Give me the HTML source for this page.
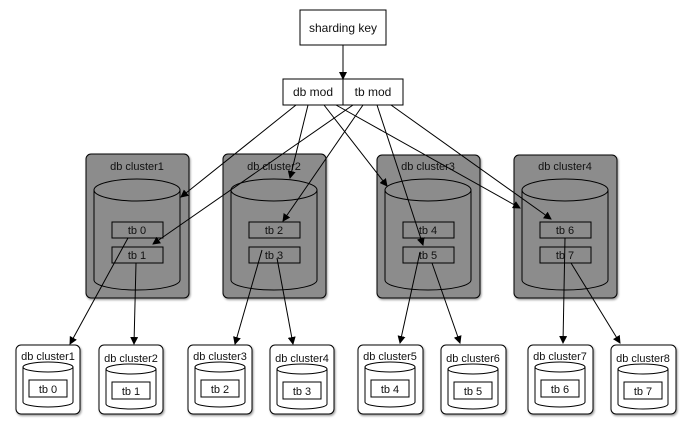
<!DOCTYPE html>
<html><head><style>body{margin:0;background:#fff}svg{display:block}text{font-family:"Liberation Sans",sans-serif;fill:#111}</style></head><body>
<svg width="692" height="431" viewBox="0 0 692 431">
<defs>
<marker id="a" markerWidth="8" markerHeight="8" refX="7" refY="4" orient="auto" markerUnits="userSpaceOnUse"><path d="M0,0 L8,4 L0,8 z" fill="#000"/></marker>
<filter id="s"><feDropShadow dx="1" dy="1.5" stdDeviation="1" flood-opacity="0.4"/></filter>
</defs>
<g stroke="#000" stroke-width="1">
<rect x="300" y="10" width="86" height="35" fill="#fff"/>
<rect x="283" y="79" width="60" height="26" fill="#fff"/>
<rect x="343" y="79" width="60" height="26" fill="#fff"/>
</g>
<text x="343" y="32" font-size="12" text-anchor="middle">sharding key</text>
<text x="313" y="96" font-size="12" text-anchor="middle">db mod</text>
<text x="373" y="96" font-size="12" text-anchor="middle">tb mod</text>

<g stroke="#000" stroke-width="1">
<rect x="86" y="154" width="103" height="144" rx="5" fill="#8c8c8c" filter="url(#s)"/>
<rect x="223" y="154" width="103" height="144" rx="5" fill="#8c8c8c" filter="url(#s)"/>
<rect x="377" y="155" width="103" height="143" rx="5" fill="#8c8c8c" filter="url(#s)"/>
<rect x="514" y="155" width="103" height="143" rx="5" fill="#8c8c8c" filter="url(#s)"/>
</g>
<g font-size="11" text-anchor="middle">
<text x="137" y="170">db cluster1</text><text x="274" y="170">db cluster2</text>
<text x="428" y="170">db cluster3</text><text x="565" y="170">db cluster4</text>
</g>
<g stroke="#000" fill="#8c8c8c">
<path d="M94,190 V280 A43,10 0 0 0 180,280 V190"/><ellipse cx="137" cy="190" rx="43" ry="11"/>
<path d="M231,190 V280 A43,10 0 0 0 317,280 V190"/><ellipse cx="274" cy="190" rx="43" ry="11"/>
<path d="M385,190 V280 A43,10 0 0 0 471,280 V190"/><ellipse cx="428" cy="190" rx="43" ry="11"/>
<path d="M522,190 V280 A43,10 0 0 0 608,280 V190"/><ellipse cx="565" cy="190" rx="43" ry="11"/>
<rect x="112" y="222" width="51" height="16"/><rect x="112" y="247" width="51" height="16"/>
<rect x="249" y="222" width="51" height="16"/><rect x="249" y="247" width="51" height="16"/>
<rect x="403" y="222" width="51" height="16"/><rect x="403" y="247" width="51" height="16"/>
<rect x="540" y="222" width="51" height="16"/><rect x="540" y="247" width="51" height="16"/>
</g>
<g font-size="11" text-anchor="middle">
<text x="137" y="234">tb 0</text><text x="137" y="259">tb 1</text>
<text x="274" y="234">tb 2</text><text x="274" y="259">tb 3</text>
<text x="428" y="234">tb 4</text><text x="428" y="259">tb 5</text>
<text x="565" y="234">tb 6</text><text x="565" y="259">tb 7</text>
</g>

<g stroke="#000" fill="#fff">
<rect x="16" y="345" width="64" height="69" rx="5" filter="url(#s)"/>
<rect x="99" y="345" width="64" height="69" rx="5" filter="url(#s)"/>
<rect x="188" y="345" width="64" height="69" rx="5" filter="url(#s)"/>
<rect x="270" y="345" width="64" height="69" rx="5" filter="url(#s)"/>
<rect x="358" y="345" width="65" height="69" rx="5" filter="url(#s)"/>
<rect x="441" y="345" width="65" height="69" rx="5" filter="url(#s)"/>
<rect x="528" y="345" width="65" height="69" rx="5" filter="url(#s)"/>
<rect x="611" y="345" width="65" height="69" rx="5" filter="url(#s)"/>
</g>
<g stroke="#000" fill="#fff">
<path d="M23,367 V402 A25,5 0 0 0 73,402 V367"/><ellipse cx="48" cy="367" rx="25" ry="5"/><rect x="29" y="380" width="38" height="17"/>
<path d="M106,369 V404 A25,5 0 0 0 156,404 V369"/><ellipse cx="131" cy="369" rx="25" ry="5"/><rect x="112" y="382" width="38" height="17"/>
<path d="M195,367 V402 A25,5 0 0 0 245,402 V367"/><ellipse cx="220" cy="367" rx="25" ry="5"/><rect x="201" y="380" width="38" height="17"/>
<path d="M277,369 V404 A25,5 0 0 0 327,404 V369"/><ellipse cx="302" cy="369" rx="25" ry="5"/><rect x="283" y="382" width="38" height="17"/>
<path d="M365,367 V402 A25,5 0 0 0 415,402 V367"/><ellipse cx="390" cy="367" rx="25" ry="5"/><rect x="371" y="380" width="38" height="17"/>
<path d="M448,369 V404 A25,5 0 0 0 498,404 V369"/><ellipse cx="473" cy="369" rx="25" ry="5"/><rect x="454" y="382" width="38" height="17"/>
<path d="M535,367 V402 A25,5 0 0 0 585,402 V367"/><ellipse cx="560" cy="367" rx="25" ry="5"/><rect x="541" y="380" width="38" height="17"/>
<path d="M618,369 V404 A25,5 0 0 0 668,404 V369"/><ellipse cx="643" cy="369" rx="25" ry="5"/><rect x="624" y="382" width="38" height="17"/>
</g>
<g font-size="11" text-anchor="middle">
<text x="48" y="360">db cluster1</text><text x="48" y="393">tb 0</text>
<text x="131" y="362">db cluster2</text><text x="131" y="395">tb 1</text>
<text x="220" y="360">db cluster3</text><text x="220" y="393">tb 2</text>
<text x="302" y="362">db cluster4</text><text x="302" y="395">tb 3</text>
<text x="390" y="360">db cluster5</text><text x="390" y="393">tb 4</text>
<text x="473" y="362">db cluster6</text><text x="473" y="395">tb 5</text>
<text x="560" y="360">db cluster7</text><text x="560" y="393">tb 6</text>
<text x="643" y="362">db cluster8</text><text x="643" y="395">tb 7</text>
</g>

<g stroke="#000" stroke-width="1" fill="none" marker-end="url(#a)">
<line x1="343" y1="45" x2="343" y2="79"/>
<line x1="296" y1="105" x2="181" y2="197"/>
<line x1="308" y1="105" x2="290" y2="178"/>
<line x1="324" y1="105" x2="387" y2="186"/>
<line x1="336" y1="105" x2="520" y2="208"/>
<line x1="353" y1="105" x2="153" y2="244"/>
<line x1="363" y1="105" x2="283" y2="221"/>
<line x1="377" y1="105" x2="423" y2="245"/>
<line x1="391" y1="105" x2="551" y2="219"/>
<line x1="128" y1="238" x2="70" y2="344"/>
<line x1="136" y1="263" x2="134" y2="344"/>
<line x1="262" y1="250" x2="235" y2="344"/>
<line x1="277" y1="258" x2="293" y2="344"/>
<line x1="420" y1="252" x2="400" y2="343"/>
<line x1="432" y1="263" x2="460" y2="343"/>
<line x1="565" y1="238" x2="563" y2="343"/>
<line x1="571" y1="263" x2="620" y2="343"/>
</g>
</svg>
</body></html>
